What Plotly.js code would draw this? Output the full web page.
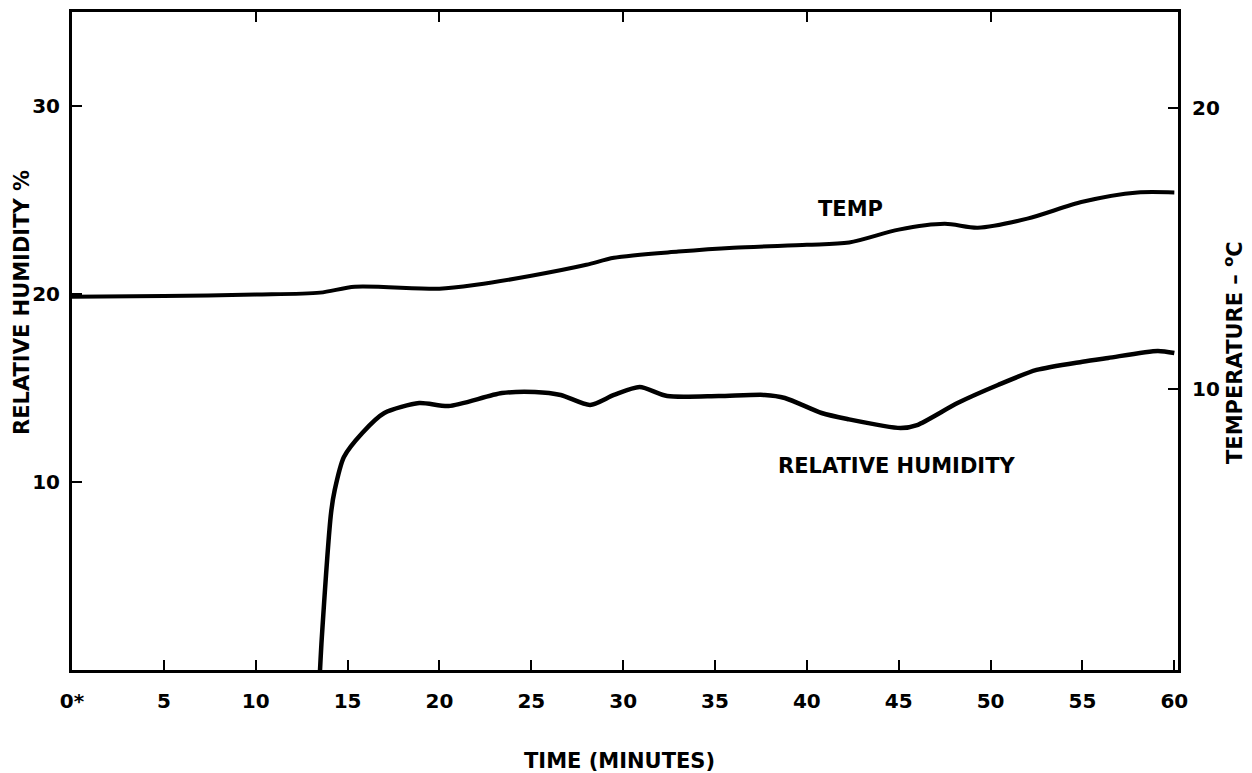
<!DOCTYPE html>
<html>
<head>
<meta charset="utf-8">
<script src="https://cdn.plot.ly/plotly-3.0.1.min.js"></script>
<style>body{margin:0;background:#fff}#chart{width:1252px;height:773px}</style>
</head>
<body>
<div id="chart"></div>
<script>
// TEMPERATURE (°C, right axis) vs time (minutes)
const tempTime = [0, 5, 10, 13.5, 15.4, 20, 22, 25, 28, 29.5, 33, 36, 40, 42.3, 45, 47.5, 49.3, 52, 55, 58, 60];
const tempValue = [13.27, 13.3, 13.35, 13.42, 13.63, 13.56, 13.7, 14.02, 14.41, 14.66, 14.88, 15.02, 15.12, 15.2, 15.66, 15.87, 15.73, 16.05, 16.65, 16.98, 16.98];

// RELATIVE HUMIDITY (%, left axis) vs time (minutes)
const rhTime = [13.5, 13.6, 14.1, 14.3, 14.8, 15.8, 17.0, 18.9, 20.5, 23.4, 25.2, 26.6, 28.2, 29.5, 30.9, 32.4, 35.2, 37.7, 38.8, 40.8, 42.2, 45.1, 46.0, 48.2, 50.4, 52.5, 55.0, 56.4, 59.1, 60];
const rhValue = [0.0, 1.76, 8.35, 9.57, 11.33, 12.61, 13.67, 14.2, 14.04, 14.73, 14.79, 14.63, 14.1, 14.63, 15.05, 14.57, 14.57, 14.63, 14.47, 13.67, 13.35, 12.87, 13.03, 14.2, 15.16, 15.96, 16.4, 16.6, 16.97, 16.86];

const xTickVals = [0, 5, 10, 15, 20, 25, 30, 35, 40, 45, 50, 55, 60];
const xTickText = ["0*", "5", "10", "15", "20", "25", "30", "35", "40", "45", "50", "55", "60"];
const topTickVals = [10, 20, 30, 40, 50];
const rhTickVals = [10, 20, 30];
const tempTickVals = [10, 20];

const xTitle = "TIME (MINUTES)";
const rhTitle = "RELATIVE HUMIDITY %";
const tempTitle = "TEMPERATURE – <sup>o</sup>C";

const FONT = "DejaVu Sans, Liberation Sans, Arial, sans-serif";
const tickFont = {family: FONT, size: 20, color: "#000", weight: "bold"};
const labelFont = {family: FONT, size: 21, color: "#000", weight: "bold"};

const traces = [
  {x: tempTime, y: tempValue, xaxis: "x", yaxis: "y2", mode: "lines",
   line: {color: "#000", width: 4, shape: "spline", smoothing: 0.8}, hoverinfo: "skip"},
  {x: rhTime, y: rhValue, xaxis: "x", yaxis: "y", mode: "lines",
   line: {color: "#000", width: 4.5, shape: "spline", smoothing: 0.7}, hoverinfo: "skip"},
  {x: [0], y: [0], xaxis: "x2", yaxis: "y", mode: "markers", marker: {opacity: 0}, hoverinfo: "skip"}
];

const layout = {
  width: 1252, height: 773,
  margin: {l: 72, r: 74, t: 12, b: 103},
  paper_bgcolor: "#fff", plot_bgcolor: "#fff",
  showlegend: false,
  xaxis: {
    range: [0, 60.2], tickmode: "array", tickvals: xTickVals, ticktext: xTickText,
    ticks: "inside", ticklen: 10, tickwidth: 2, tickcolor: "#000",
    showline: true, linewidth: 3, linecolor: "#000", showgrid: false, zeroline: false,
    tickfont: tickFont, ticklabelstandoff: 11
  },
  xaxis2: {
    overlaying: "x", side: "top", range: [0, 60.2], tickmode: "array", tickvals: topTickVals,
    showticklabels: false, ticks: "inside", ticklen: 10, tickwidth: 2, tickcolor: "#000",
    showline: true, linewidth: 3, linecolor: "#000", showgrid: false, zeroline: false
  },
  yaxis: {
    range: [0, 35], tickmode: "array", tickvals: rhTickVals,
    ticks: "inside", ticklen: 10, tickwidth: 2, tickcolor: "#000",
    showline: true, linewidth: 3, linecolor: "#000", showgrid: false, zeroline: false,
    tickfont: tickFont, ticklabelstandoff: 5
  },
  yaxis2: {
    overlaying: "y", side: "right", range: [0, 23.4], tickmode: "array", tickvals: tempTickVals,
    ticks: "inside", ticklen: 10, tickwidth: 2, tickcolor: "#000",
    showline: true, linewidth: 3, linecolor: "#000", showgrid: false, zeroline: false,
    tickfont: tickFont, ticklabelstandoff: 7
  },
  annotations: [
    {text: "TEMP", xref: "x", yref: "y2", x: 42.35, y: 16.39, showarrow: false, font: labelFont},
    {text: "RELATIVE HUMIDITY", xref: "x", yref: "y", x: 44.86, y: 10.85, showarrow: false, font: labelFont},
    {text: xTitle, xref: "paper", yref: "paper", x: 0.4946, y: -0.1383, xanchor: "center", yanchor: "middle",
     showarrow: false, font: labelFont},
    {text: rhTitle, xref: "paper", yref: "paper", x: -0.0452, y: 0.5578, xanchor: "center", yanchor: "middle",
     textangle: -90, showarrow: false, font: labelFont},
    {text: tempTitle, xref: "paper", yref: "paper", x: 1.0497, y: 0.4833, xanchor: "center", yanchor: "middle",
     textangle: -90, showarrow: false, font: labelFont}
  ]
};

Plotly.newPlot("chart", traces, layout, {displayModeBar: false, staticPlot: true});
</script>
</body>
</html>
